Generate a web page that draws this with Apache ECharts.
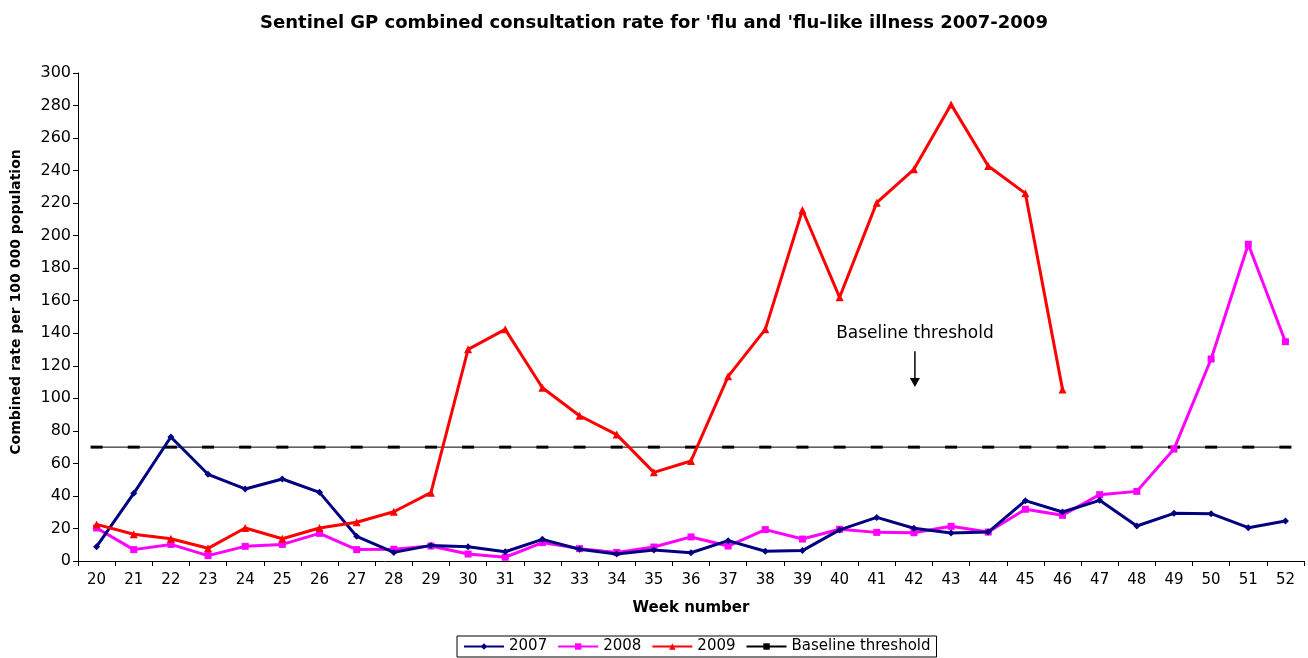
<!DOCTYPE html>
<html>
<head>
<meta charset="utf-8">
<script src="https://cdn.jsdelivr.net/npm/echarts@6/dist/echarts.min.js"></script>
<style>
  html, body { margin: 0; padding: 0; background: #fff; }
  #chart { width: 1308px; height: 658px; }
</style>
</head>
<body>
<div id="chart"></div>
<script>
// week numbers
const weeks = ['20','21','22','23','24','25','26','27','28','29','30','31','32','33','34','35','36',
               '37','38','39','40','41','42','43','44','45','46','47','48','49','50','51','52'];

const rate2007 = [8.8, 41.6, 76.2, 53.3, 44.3, 50.4, 42.2, 15.2, 5.3, 9.6, 8.8, 5.7, 13.3, 7.2, 4.3, 6.8, 5.1,
                  12.5, 6.0, 6.4, 19.1, 26.8, 20.1, 17.2, 17.8, 37.1, 30.1, 37.3, 21.5, 29.3, 29.1, 20.5, 24.6];
const rate2008 = [20.3, 7.0, 10.2, 3.3, 9.0, 10.2, 17.0, 7.0, 7.2, 9.2, 4.3, 2.3, 11.3, 7.6, 5.3, 8.6, 14.8,
                  9.2, 19.3, 13.5, 19.5, 17.6, 17.4, 21.3, 17.8, 31.8, 28.1, 40.8, 42.8, 68.8, 124.2, 194.7, 134.8];
// 2009 stops at week 46
const rate2009 = [22.5, 16.4, 13.7, 7.8, 20.3, 13.7, 20.3, 23.8, 30.3, 42.0, 130.1, 142.4, 106.5, 89.3, 77.7, 54.5, 61.5,
                  113.5, 142.4, 215.8, 162.1, 220.3, 240.8, 280.7, 242.8, 226.0, 105.5];
const baseline = weeks.map(() => 70);

// the original uses a wide sans, DejaVu comes closest
const font = 'DejaVu Sans, Liberation Sans, sans-serif';

const chart = echarts.init(document.getElementById('chart'));
chart.setOption({
    animation: false,
    backgroundColor: '#fff',
    textStyle: { fontFamily: font, color: '#000' },
    title: {
        text: "Sentinel GP combined consultation rate for 'flu and 'flu-like illness 2007-2009",
        left: 'center',
        top: 9,
        textStyle: { fontFamily: font, fontSize: 18, fontWeight: 'bold', color: '#000' }
    },
    grid: { left: 78, right: 4, top: 73, bottom: 97 },
    legend: {
        bottom: 1,
        left: 457,
        borderColor: '#000',
        borderWidth: 1,
        borderRadius: 0,
        padding: [3, 6, 3, 6],
        itemWidth: 40,
        itemHeight: 8,
        itemGap: 10,
        textStyle: { fontFamily: font, fontSize: 15, color: '#000' },
        data: ['2007', '2008', '2009', 'Baseline threshold']
    },
    xAxis: {
        type: 'category',
        data: weeks,
        boundaryGap: true,
        name: 'Week number',
        nameLocation: 'middle',
        nameGap: 40,
        nameTextStyle: { fontFamily: font, fontSize: 15, fontWeight: 'bold', color: '#000' },
        axisLine: { lineStyle: { color: '#000', width: 1 } },
        axisTick: { show: true, alignWithLabel: false, length: 5, lineStyle: { color: '#000' } },
        axisLabel: { fontFamily: font, fontSize: 15, color: '#000', margin: 12, interval: 0 },
        splitLine: { show: false }
    },
    yAxis: {
        type: 'value',
        min: 0,
        max: 300,
        interval: 20,
        name: 'Combined rate per 100 000 population',
        nameLocation: 'middle',
        nameGap: 55,
        nameTextStyle: { fontFamily: font, fontSize: 14, fontWeight: 'bold', color: '#000', padding: [0, 0, 0, 30] },
        axisLine: { show: true, lineStyle: { color: '#000', width: 1 } },
        axisTick: { show: true, length: 5, lineStyle: { color: '#000' } },
        axisLabel: { fontFamily: font, fontSize: 16, color: '#000', margin: 7 },
        splitLine: { show: false }
    },
    series: [
        {
            name: '2007', type: 'line', data: rate2007,
            color: '#000080',
            lineStyle: { width: 3 },
            symbol: 'diamond', symbolSize: 7,
            z: 4
        },
        {
            name: '2008', type: 'line', data: rate2008,
            color: '#FF00FF',
            lineStyle: { width: 3 },
            symbol: 'rect', symbolSize: 7,
            z: 3
        },
        {
            name: '2009', type: 'line', data: rate2009,
            color: '#FF0000',
            lineStyle: { width: 3 },
            symbol: 'triangle', symbolSize: 8,
            z: 5
        },
        {
            name: 'Baseline threshold', type: 'line', data: baseline,
            color: '#000',
            lineStyle: { width: 1 },
            symbol: 'rect', symbolSize: [12, 3],
            z: 2
        }
    ]
});

// "Baseline threshold" annotation over week 42
const labelPos = chart.convertToPixel({ gridIndex: 0 }, ['42', 140]);
const arrowTip = chart.convertToPixel({ gridIndex: 0 }, ['42', 107]);
const ax = labelPos[0] + 1;
chart.setOption({
    graphic: [
        {
            type: 'text', x: ax, y: labelPos[1],
            style: { text: 'Baseline threshold', font: '17px ' + font, fill: '#000', align: 'center', verticalAlign: 'middle' }
        },
        {
            type: 'line',
            shape: { x1: ax, y1: labelPos[1] + 18, x2: ax, y2: arrowTip[1] - 6 },
            style: { stroke: '#000', lineWidth: 1.5 }
        },
        {
            type: 'polygon',
            shape: { points: [[ax - 5, arrowTip[1] - 9], [ax + 5, arrowTip[1] - 9], [ax, arrowTip[1]]] },
            style: { fill: '#000' }
        }
    ]
});
</script>
</body>
</html>
